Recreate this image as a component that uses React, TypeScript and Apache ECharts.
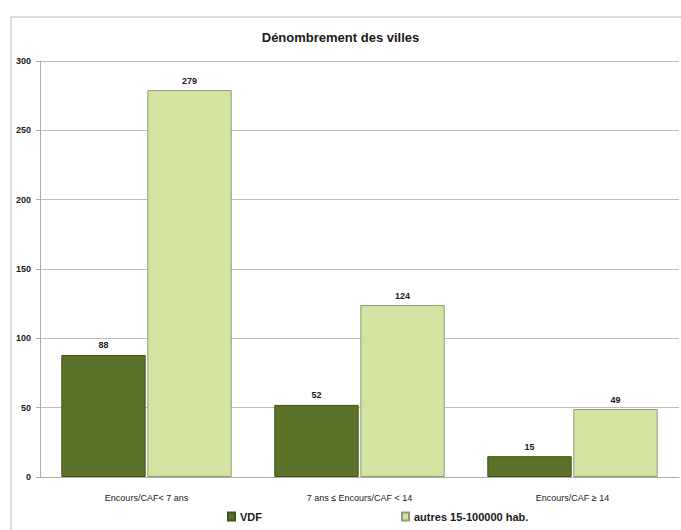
import React, { useEffect, useRef } from "react";
import * as echarts from "echarts";

const categories = ["Encours/CAF< 7 ans", "7 ans ≤ Encours/CAF < 14", "Encours/CAF ≥ 14"];
const vdfValues = [88, 52, 15];
const autresValues = [279, 124, 49];
const seriesNames = ["VDF", "autres 15-100000 hab."];
const titleText = "Dénombrement des villes";

const FONT = "'Liberation Sans Narrow', 'Arial Narrow', 'Liberation Sans', Arial, sans-serif";

export default function App() {
  const ref = useRef<HTMLDivElement>(null);
  useEffect(() => {
    if (!ref.current) return;
    const chart = echarts.init(ref.current, undefined, { renderer: "svg" });
    chart.setOption({
      animation: false,
      backgroundColor: "#ffffff",
      title: {
        text: titleText,
        left: "center",
        top: 26,
        textStyle: { fontFamily: FONT, fontSize: 13, fontWeight: "bold", color: "#1a1a1a" },
      },
      graphic: [
        {
          type: "rect",
          shape: { x: 11, y: 17, width: 720, height: 600 },
          style: { fill: "none", stroke: "#cfcfcf", lineWidth: 1.5 },
          silent: true,
        },
      ],
      legend: {
        bottom: 3,
        left: 222,
        itemGap: 139,
        itemWidth: 7,
        itemHeight: 8,
        icon: "rect",
        textStyle: { fontFamily: FONT, fontSize: 11, fontWeight: "bold", color: "#1a1a1a" },
        data: seriesNames,
      },
      grid: { left: 40, right: 2, top: 61, bottom: 53, containLabel: false },
      xAxis: {
        type: "category",
        data: categories,
        axisLine: { lineStyle: { color: "#b5aaaa" } },
        axisTick: { show: false },
        axisLabel: { fontFamily: FONT, fontSize: 9, color: "#1a1a1a", margin: 16 },
      },
      yAxis: {
        type: "value",
        min: 0,
        max: 300,
        interval: 50,
        axisLine: { show: true, lineStyle: { color: "#b5aaaa" } },
        axisTick: { show: true, length: 4, lineStyle: { color: "#b5aaaa" } },
        axisLabel: { fontFamily: FONT, fontSize: 9, fontWeight: "bold", color: "#1a1a1a", margin: 9 },
        splitLine: { lineStyle: { color: "#c4baba" } },
      },
      series: [
        {
          name: seriesNames[0],
          type: "bar",
          data: vdfValues,
          barGap: "2%",
          barCategoryGap: "20%",
          itemStyle: { color: "#5b7329", borderColor: "#3f531a", borderWidth: 1 },
          label: {
            show: true,
            position: "top",
            distance: 5,
            fontFamily: FONT,
            fontSize: 9,
            fontWeight: "bold",
            color: "#1a1a1a",
          },
        },
        {
          name: seriesNames[1],
          type: "bar",
          data: autresValues,
          itemStyle: { color: "#d3e4a2", borderColor: "#8f9a78", borderWidth: 1 },
          label: {
            show: true,
            position: "top",
            distance: 5,
            fontFamily: FONT,
            fontSize: 9,
            fontWeight: "bold",
            color: "#1a1a1a",
          },
        },
      ],
    });
    return () => chart.dispose();
  }, []);
  return (
    <div
      ref={ref}
      style={{ position: "fixed", left: 0, top: 0, width: 681, height: 530 }}
    />
  );
}
